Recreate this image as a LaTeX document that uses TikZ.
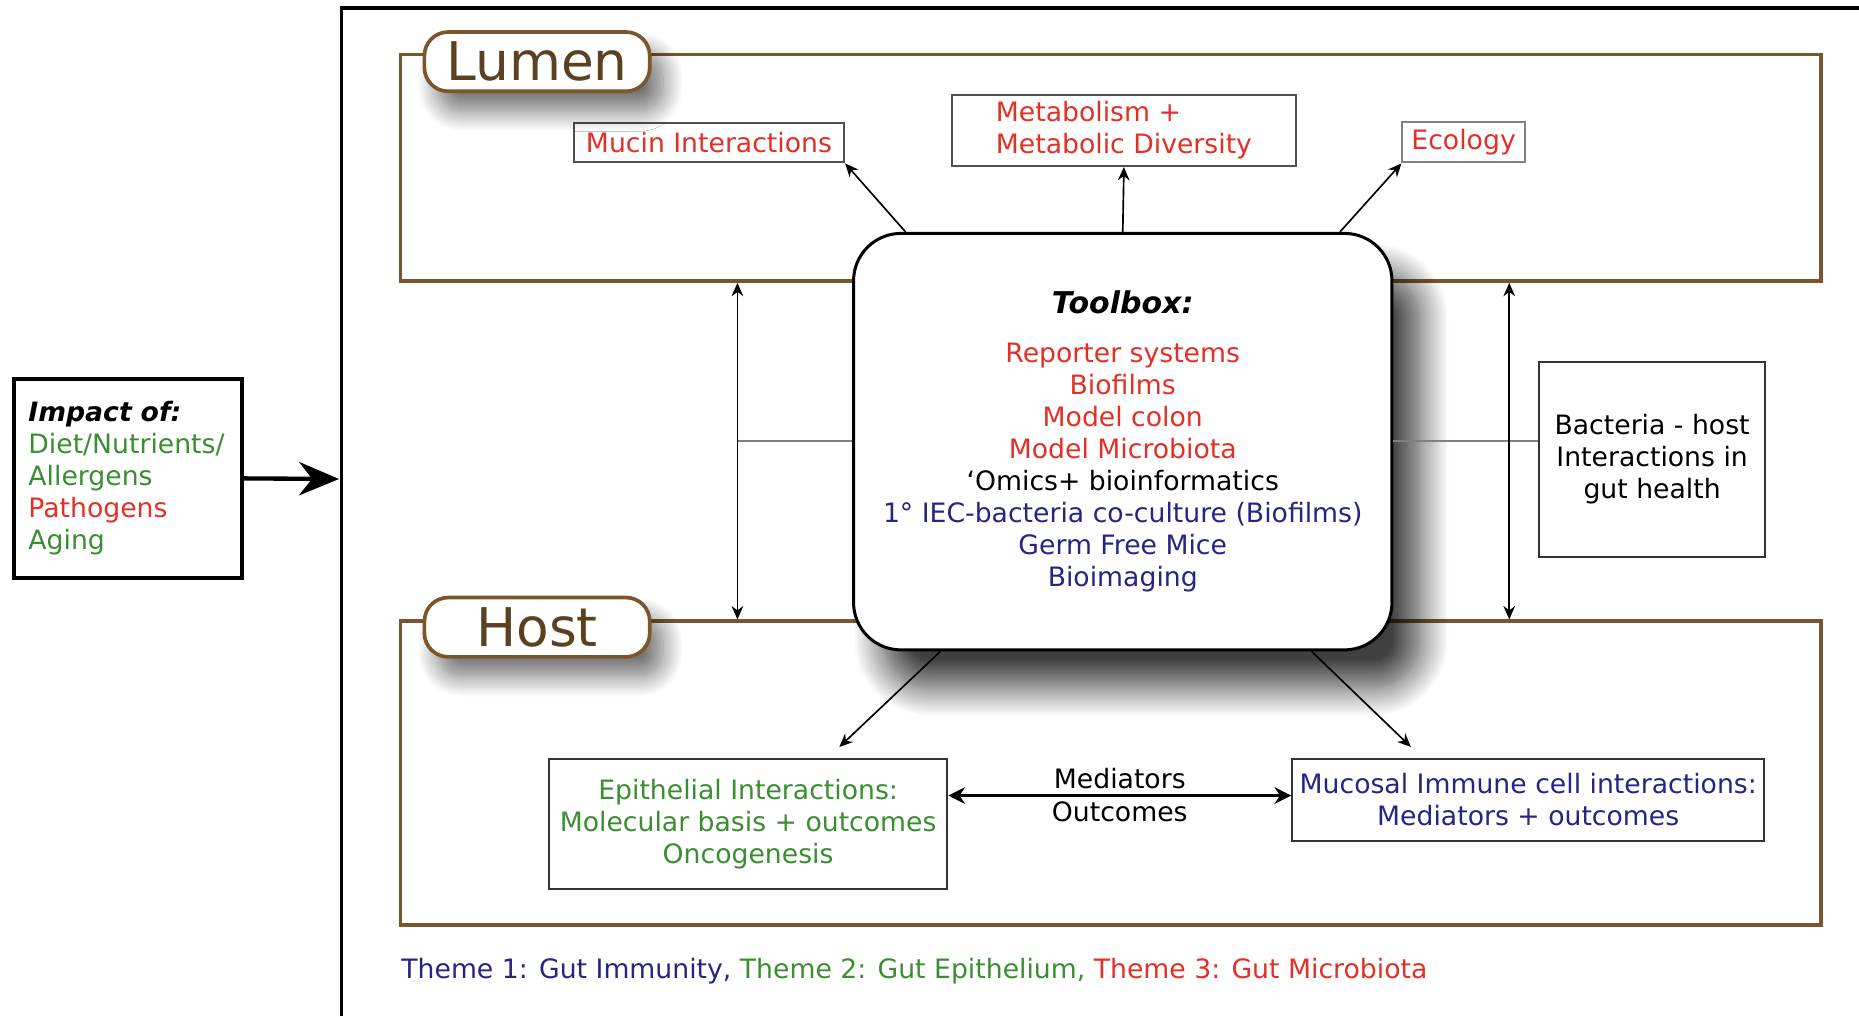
\documentclass[tikz,border=0pt]{standalone}
\usepackage{fontspec}
\setmainfont{DejaVu Sans}
\usepackage{xcolor}
\usepackage{tikz}
\usetikzlibrary{arrows.meta,shadows.blur}
\definecolor{soil}{RGB}{122,86,42}
\definecolor{themered}{RGB}{226,48,38}
\definecolor{themegreen}{RGB}{58,142,48}
\definecolor{themeblue}{RGB}{38,36,135}
\definecolor{edgegray}{RGB}{80,80,80}

\tikzset{
  zone/.style={draw=soil, line width=1.1pt},
  tag/.style={draw=soil, line width=1.1pt, fill=white, rounded corners=0.25cm,
    minimum width=2.375cm, minimum height=0.625cm, inner sep=0pt,
    font=\fontsize{16}{18}\selectfont, text=soil!75!black,
    blur shadow={shadow xshift=4pt, shadow yshift=-6pt, shadow blur radius=6pt,
      shadow blur steps=16, shadow opacity=55}},
  topic/.style={draw=edgegray, line width=0.6pt, fill=white, inner sep=0pt, align=center},
  link/.style={->, line width=0.5pt},
}

\begin{document}
\begin{tikzpicture}[x=0.0125cm, y=-0.0125cm, >={Stealth[length=4pt,width=3.5pt]},
  font=\fontsize{8}{9.6}\selectfont]
\useasboundingbox (0,0) rectangle (1568,857);
% outer frame
\draw[line width=1.1pt] (288,857) -- (288,7) -- (1568,7);
% impact box
\node[draw, line width=1.2pt, minimum width=2.4cm, minimum height=2.09cm,
  text width=2.1cm, align=left, inner sep=0pt] (impact) at (108,403.5)
  {{\bfseries\itshape Impact of:}\\
   \textcolor{themegreen}{Diet/Nutrients/}\\
   \textcolor{themegreen}{Allergens}\\
   \textcolor{themered}{Pathogens}\\
   \textcolor{themegreen}{Aging}};
\coordinate (entry) at (286,404);
\draw[line width=1.3pt, -{Stealth[length=12pt,width=10pt]}] (impact.east) -- (entry);
% zones
\node[zone, minimum width=14.975cm, minimum height=2.3875cm] (lumen) at (937,141.5) {};
\node[zone, minimum width=14.975cm, minimum height=3.2cm] (host) at (937,652) {};
% lumen topics
\node[topic, minimum width=2.85cm, minimum height=0.4125cm, text=themered] (mucin) at (598,120.5) {Mucin Interactions};
\node[topic, minimum width=3.625cm, minimum height=0.75cm, text=themered, align=left] (metab) at (948,110) {Metabolism +\\Metabolic Diversity};
\node[topic, minimum width=1.29cm, minimum height=0.425cm, text=themered, draw=gray] (eco) at (1234.5,120) {Ecology};
% toolbox
\node[draw, line width=0.9pt, fill=white, rounded corners=0.5cm, align=center,
  minimum width=5.675cm, minimum height=4.39cm,
  blur shadow={shadow xshift=0.3cm, shadow yshift=-0.4cm, shadow blur radius=0.3cm,
    shadow blur steps=20, shadow opacity=75}]
  (tool) at (947,372.5)
  {{\bfseries\itshape\fontsize{9}{11}\selectfont Toolbox:}\\[5pt]
   \textcolor{themered}{Reporter systems}\\
   \textcolor{themered}{Biofilms}\\
   \textcolor{themered}{Model colon}\\
   \textcolor{themered}{Model Microbiota}\\
   `Omics+ bioinformatics\\
   \textcolor{themeblue}{1° IEC-bacteria co-culture (Biofilms)}\\
   \textcolor{themeblue}{Germ Free Mice}\\
   \textcolor{themeblue}{Bioimaging}};
% zone labels
\node[tag] (lumentag) at (453,52) {Lumen};
\node[tag] (hosttag) at (453,529) {Host};
% side box
\node[topic, draw=black!80, minimum width=2.39cm, minimum height=2.06cm] (bact) at (1393.5,387.5)
  {Bacteria - host\\Interactions in\\gut health};
% host topics
\node[topic, draw=black!80, minimum width=4.2cm, minimum height=1.375cm, text=themegreen] (epi) at (631,695)
  {Epithelial Interactions:\\Molecular basis + outcomes\\Oncogenesis};
\node[topic, draw=black!80, minimum width=4.975cm, minimum height=0.8625cm, text=themeblue] (muc) at (1289,674.5)
  {Mucosal Immune cell interactions:\\Mediators + outcomes};
% connectors
\coordinate (lx) at (622,372);
\coordinate (rx) at (1273,372);
\coordinate (medy) at (948,671);
\coordinate (epitip) at (708,630);
\coordinate (muctip) at (1190,630);
\draw[link] (tool.136) -- (mucin.south east);
\draw[link] (tool.north) -- (metab.south);
\draw[link] (tool.44) -- (eco.south west);
\draw[link] (tool.229) -- (epitip);
\draw[link] (tool.-48) -- (muctip);
\draw[gray, line width=0.8pt] (lx) -- (lx -| tool.west);
\draw[gray, line width=0.8pt] (rx -| tool.east) -- (rx -| bact.west);
\draw[link, <->] (lx |- lumen.south) -- (lx |- host.north);
\draw[link, <->] (rx |- lumen.south) -- (rx |- host.north);
\draw[line width=0.9pt, <->, >={Stealth[length=5pt,width=5pt]}] (epi.east |- medy) -- (muc.west |- medy)
  node[midway, above, inner sep=1.5pt] {Mediators}
  node[midway, below, inner sep=1.5pt] {Outcomes};
% legend
\node[anchor=west, inner sep=0pt] (themes) at (338,819)
  {\textcolor{themeblue}{Theme 1: Gut Immunity,} \textcolor{themegreen}{Theme 2: Gut Epithelium,} \textcolor{themered}{Theme 3: Gut Microbiota}};
\end{tikzpicture}
\end{document}
